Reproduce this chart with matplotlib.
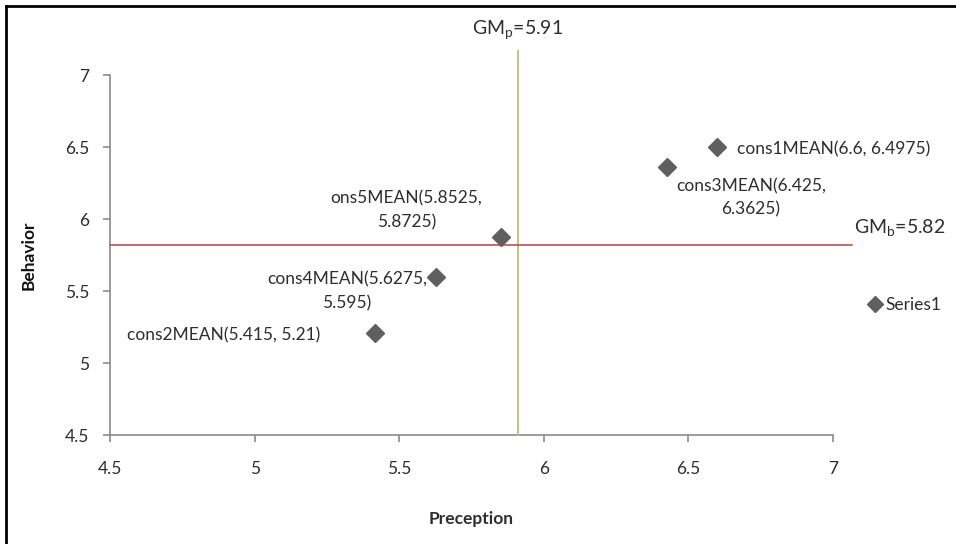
import matplotlib
matplotlib.use("Agg")
import matplotlib.pyplot as plt
from matplotlib.lines import Line2D

plt.rcParams['font.family'] = ['Lato', 'DejaVu Sans']

# Group means: (Preception, Behavior)
names = ["cons1MEAN", "cons2MEAN", "cons3MEAN", "cons4MEAN", "ons5MEAN"]
preception = [6.6, 5.415, 6.425, 5.6275, 5.8525]
behavior = [6.4975, 5.21, 6.3625, 5.595, 5.8725]
label_texts = ["cons1MEAN(6.6, 6.4975)",
               "cons2MEAN(5.415, 5.21)",
               "cons3MEAN(6.425,\n6.3625)",
               "cons4MEAN(5.6275,\n5.595)",
               "ons5MEAN(5.8525,\n5.8725)"]

# Grand means
gm_p = 5.91
gm_b = 5.82

x_ticks = [4.5, 5, 5.5, 6, 6.5, 7]
y_ticks = [4.5, 5, 5.5, 6, 6.5, 7]
x_ticklabels = ["4.5", "5", "5.5", "6", "6.5", "7"]
y_ticklabels = ["4.5", "5", "5.5", "6", "6.5", "7"]

W, H = 956, 544
fig = plt.figure(figsize=(W / 100, H / 100), dpi=100)
ax = fig.add_axes([110 / W, 1 - 435 / H, (833 - 110) / W, (435 - 75) / H])

marker_color = "#5f5f5f"
text_color = "#2e2e2e"
axis_color = "#8a8a8a"
fs = 12.5

pts = ax.plot(preception, behavior, linestyle="none", marker="D",
              markersize=9.5, color=marker_color, label="Series1",
              clip_on=False, zorder=5)

ax.set_xlim(4.5, 7)
ax.set_ylim(4.5, 7)
ax.set_xticks(x_ticks)
ax.set_xticklabels(x_ticklabels)
ax.set_yticks(y_ticks)
ax.set_yticklabels(y_ticklabels)

for s in ["top", "right"]:
    ax.spines[s].set_visible(False)
for s in ["left", "bottom"]:
    ax.spines[s].set_color(axis_color)
    ax.spines[s].set_linewidth(1.2)
ax.tick_params(axis="both", direction="out", length=5, width=1.2,
               color=axis_color, labelsize=fs, labelcolor=text_color)
ax.tick_params(axis="x", pad=14)
ax.tick_params(axis="y", pad=10)

ax.set_xlabel("Preception", fontsize=fs, fontweight="bold",
              color=text_color, labelpad=24)
ax.set_ylabel("Behavior", fontsize=fs, fontweight="bold",
              color="#111111", labelpad=20)

# Grand mean reference lines
ax.plot([gm_p, gm_p], [4.5, 7.17], color="#b8c07a", linewidth=1.3,
        clip_on=False, zorder=3)
ax.plot([4.5, 7.065], [gm_b, gm_b], color="#c0504d", linewidth=1.2,
        clip_on=False, zorder=3)
ax.annotate("GM$_\\mathregular{p}$=5.91", xy=(gm_p, 7.17),
            xytext=(0, 9), textcoords="offset pixels",
            ha="center", va="bottom", fontsize=fs + 1.5, color=text_color,
            annotation_clip=False)
ax.annotate("GM$_\\mathregular{b}$=5.82", xy=(7.065, gm_b),
            xytext=(2, 6), textcoords="offset pixels",
            ha="left", va="bottom", fontsize=fs + 1.5, color=text_color,
            annotation_clip=False)

# Data labels, offset from each point
offsets = {
    "cons1MEAN": ((20, -2), "left", "center"),
    "cons2MEAN": ((-54, -3), "right", "center"),
    "cons3MEAN": ((84, -31), "center", "center"),
    "cons4MEAN": ((-89, -14), "center", "center"),
    "ons5MEAN": ((-95, 27), "center", "center"),
}
for name, x, y, txt in zip(names, preception, behavior, label_texts):
    (dx, dy), ha, va = offsets[name]
    ax.annotate(txt, xy=(x, y), xytext=(dx, dy), textcoords="offset pixels",
                ha=ha, va=va, multialignment="center", linespacing=1.55,
                fontsize=fs, color=text_color, annotation_clip=False)

leg = ax.legend(handles=pts, loc="center left",
                bbox_to_anchor=(870 / W, 1 - 305 / H),
                bbox_transform=fig.transFigure, frameon=False,
                handlelength=0.6, handletextpad=0.3, markerscale=0.85,
                fontsize=fs, borderaxespad=0, borderpad=0)
for t in leg.get_texts():
    t.set_color(text_color)

# Outer frame (top and left edges)
fig.add_artist(Line2D([6 / W, 1], [1 - 6 / H, 1 - 6 / H],
                      transform=fig.transFigure, color="black", linewidth=2))
fig.add_artist(Line2D([6 / W, 6 / W], [0, 1 - 6 / H],
                      transform=fig.transFigure, color="black", linewidth=2))

fig.savefig("out.png", dpi=100)
